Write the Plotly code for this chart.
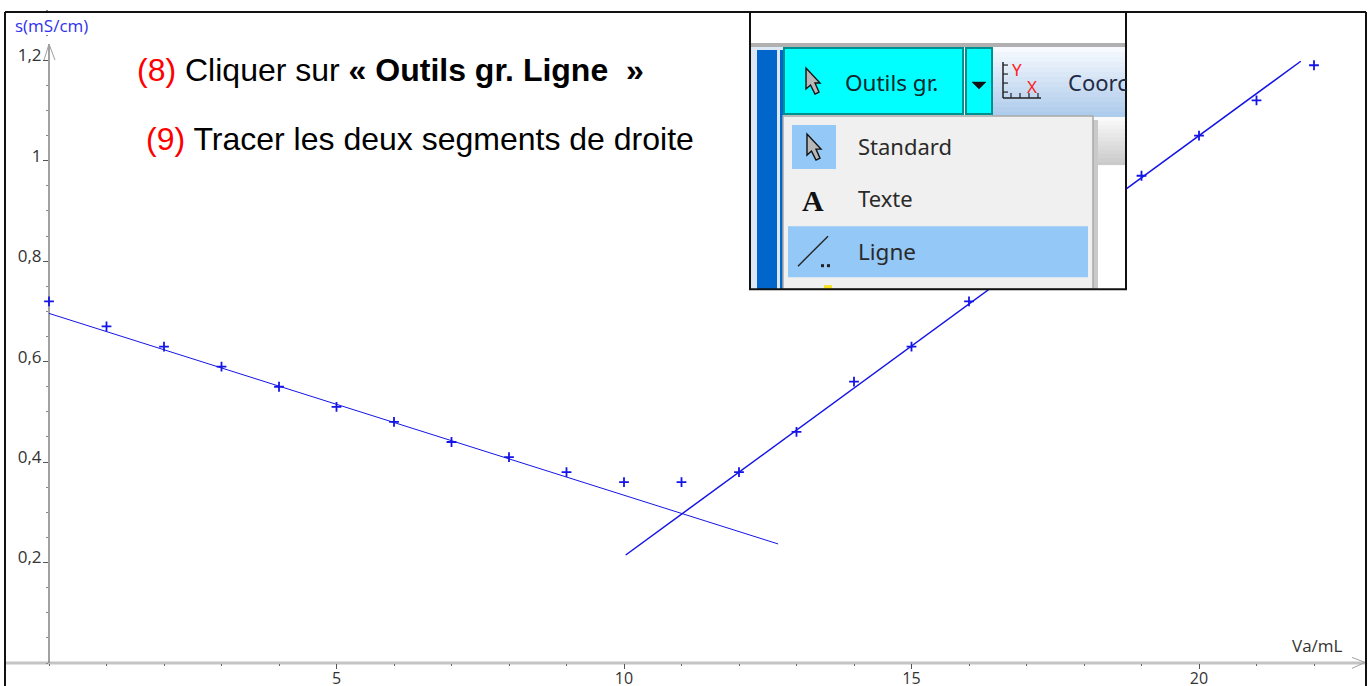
import plotly.graph_objects as go

# ---- data ----
va_ml = [0, 1, 2, 3, 4, 5, 6, 7, 8, 9, 10, 11, 12, 13, 14, 15, 16, 17, 18, 19, 20, 21, 22]
conductivity = [0.72, 0.67, 0.63, 0.59, 0.55, 0.51, 0.48, 0.44, 0.41, 0.38, 0.36, 0.36,
                0.38, 0.46, 0.56, 0.63, 0.72, 0.80, 0.89, 0.97, 1.05, 1.12, 1.19]
seg1_x = [0, 12.68]
seg1_y = [0.696, 0.237]
seg2_x = [10.03, 21.77]
seg2_y = [0.215, 1.198]
x_ticks = [5, 10, 15, 20]
x_labels = ["5", "10", "15", "20"]
y_ticks = [0.2, 0.4, 0.6, 0.8, 1.0, 1.2]
y_labels = ["0,2", "0,4", "0,6", "0,8", "1", "1,2"]

W, H = 1368, 686
L, B = 49, 23.4
PW, PH = W - L, H - B
PXX, PXY = 57.5, 502


def X(px):
    return (px - L) / PW


def Y(py):
    return (PH - py) / PH


BLUE = "#1414e6"
UI = "Noto Sans"
shapes = []


def line(x0, y0, x1, y1, color, width=1, layer="above"):
    shapes.append(dict(type="line", xref="paper", yref="paper", x0=X(x0), y0=Y(y0), x1=X(x1), y1=Y(y1),
                       line=dict(color=color, width=width), layer=layer))


def rect(x0, y0, x1, y1, fill, border=None, width=0):
    shapes.append(dict(type="rect", xref="paper", yref="paper", x0=X(x0), y0=Y(y0), x1=X(x1), y1=Y(y1),
                       fillcolor=fill, line=dict(color=border or fill, width=width), layer="above"))


def poly(points, fill, border="#000000", width=1):
    d = "M " + " L ".join(f"{X(a):.6f} {Y(b):.6f}" for a, b in points) + " Z"
    shapes.append(dict(type="path", xref="paper", yref="paper", path=d, fillcolor=fill,
                       line=dict(color=border, width=width), layer="above"))


def cursor(x, y):
    poly([(x, y), (x, y + 21), (x + 4.5, y + 17), (x + 9, y + 26), (x + 13, y + 24), (x + 9, y + 15), (x + 14, y + 15)],
         "#b8b8b8", "#111111", 1.4)


# axes
line(5, PH, 1365, PH, "#c4c4c4", 3, "below")
line(49, PH, 49, 44, "#8a8a8a", 1.6, "below")
line(1352, 657, 1365, 662, "#a0a0a0", 1, "below")
line(1352, 668, 1365, 662, "#a0a0a0", 1, "below")
line(44, 60, 49, 44, "#a0a0a0", 1, "below")
line(55, 60, 49, 44, "#a0a0a0", 1, "below")

# frame
line(5, 12, 1366, 12, "#111111", 2)
line(5, 12, 5, 686, "#111111", 2)
line(1366, 12, 1366, 686, "#111111", 2)

# inset
rect(750, 12, 1126, 289, "#ffffff")
rect(750, 43, 1126, 47, "#b0b0b0")
rect(750, 47, 783, 289, "#dce8f5")
rect(757, 50, 777, 289, "#0066cc")
rect(780, 50, 783, 289, "#0066cc")
for i in range(14):
    t = i / 13
    rect(992, 47 + i * 5, 1125, 52 + i * 5,
         f"rgb({int(246 - 72 * t)},{int(249 - 45 * t)},{int(254 - 18 * t)})")
rect(784, 48, 963, 114, "#00ffff", "#008f8f", 2)
rect(966, 48, 992, 114, "#00ffff", "#008f8f", 2)
poly([(972, 82), (986, 82), (979, 89)], "#111111", "#111111", 0.5)
for i in range(12):
    g = int(250 - 48 * i / 11)
    rect(1093, 117 + i * 4, 1125, 121 + i * 4, f"rgb({g},{g},{g})")
rect(1093, 120, 1098, 289, "#c9c9c9")
rect(783, 116, 1093, 289, "#f0f0f0", "#a8a8a8", 1.5)
rect(792, 125, 836, 169, "#94c8f7")
rect(788, 226, 1088, 277, "#94c8f7")
cursor(806, 68)
cursor(807, 134)
line(798, 266, 828, 236, "#222222", 1.4)
rect(821, 264, 824, 267, "#222222")
rect(827, 264, 830, 267, "#222222")
rect(824, 285, 832, 289, "#f7e11e")
line(1003, 62, 1003, 98, "#222222", 1.5)
line(1003, 98, 1041, 98, "#222222", 1.5)
for v in (65, 74, 83, 92):
    line(1003, v, 1008, v, "#222222", 1.2)
for v in (1011, 1020, 1029, 1038):
    line(v, 98, v, 93, "#222222", 1.2)
rect(750, 12, 1126, 289, "rgba(0,0,0,0)", "#111111", 2)


def text(px, py, s, size, color="#222222", family=UI, xanchor="left"):
    return dict(xref="paper", yref="paper", x=X(px), y=Y(py), text=s, showarrow=False, xanchor=xanchor,
                yanchor="middle", align="left", borderpad=0, font=dict(family=family, size=size, color=color))


ANN = "Liberation Sans"
annotations = [
    text(136, 70, '<span style="color:#ff0000">(8)</span> Cliquer sur <b>« Outils gr. Ligne  »</b>', 32, "#000000", ANN),
    text(145, 139, '<span style="color:#ff0000">(9)</span> Tracer les deux segments de droite', 32, "#000000", ANN),
    text(14, 25, "s(mS/cm)", 17, "#3030ee", "Open Sans"),
    text(1291, 645, "Va/mL", 17, "#333333", "Open Sans"),
    text(844, 82, "Outils gr.", 22.5, "#12262e"),
    text(1067, 82, "Coorc", 22, "#1f2a44"),
    text(857, 146, "Standard", 22, "#2a2a2a"),
    text(857, 198, "Texte", 22, "#2a2a2a"),
    text(857, 251, "Ligne", 22.5, "#2a2a2a"),
    text(801, 200, "<b>A</b>", 30, "#111111", "Liberation Serif"),
    text(1011, 69, "Y", 17, "#ff2020"),
    text(1026, 86, "X", 17, "#ff2020"),
]

fig = go.Figure()
fig.add_trace(go.Scatter(x=seg1_x, y=seg1_y, mode="lines", line=dict(color=BLUE, width=1), cliponaxis=False))
fig.add_trace(go.Scatter(x=seg2_x, y=seg2_y, mode="lines", line=dict(color=BLUE, width=1.5), cliponaxis=False))
fig.add_trace(go.Scatter(x=va_ml, y=conductivity, mode="markers", cliponaxis=False,
                         marker=dict(symbol="cross-thin", size=7, line=dict(color=BLUE, width=1.8))))

fig.update_layout(
    width=W, height=H, margin=dict(l=L, r=0, t=0, b=B, pad=0, autoexpand=False), autosize=False,
    paper_bgcolor="#ffffff", plot_bgcolor="#ffffff", showlegend=False,
    shapes=shapes, annotations=annotations,
    xaxis=dict(range=[0, PW / PXX], showgrid=False, zeroline=False, showline=False, automargin=False,
               tickmode="array", tickvals=x_ticks, ticktext=x_labels, ticks="outside", ticklen=5,
               tickwidth=1, tickcolor="#555555", ticklabelstandoff=-4,
               tickfont=dict(family="Open Sans", size=16, color="#333333"),
               minor=dict(dtick=1, tick0=0, ticks="outside", ticklen=2, tickwidth=1, tickcolor="#666666", showgrid=False)),
    yaxis=dict(range=[0, PH / PXY], showgrid=False, zeroline=False, showline=False, automargin=False,
               tickmode="array", tickvals=y_ticks, ticktext=y_labels, ticks="outside", ticklen=5,
               tickwidth=1, tickcolor="#555555", ticklabelstandoff=-2, ticklabelshift=-5,
               tickfont=dict(family="Open Sans", size=17, color="#333333"),
               minor=dict(dtick=0.05, tick0=0, ticks="outside", ticklen=2, tickwidth=1, tickcolor="#888888", showgrid=False)),
)
fig.write_html("out.html", config=dict(displayModeBar=False),
               post_script="document.body.style.margin='0';document.body.style.overflow='hidden';")
